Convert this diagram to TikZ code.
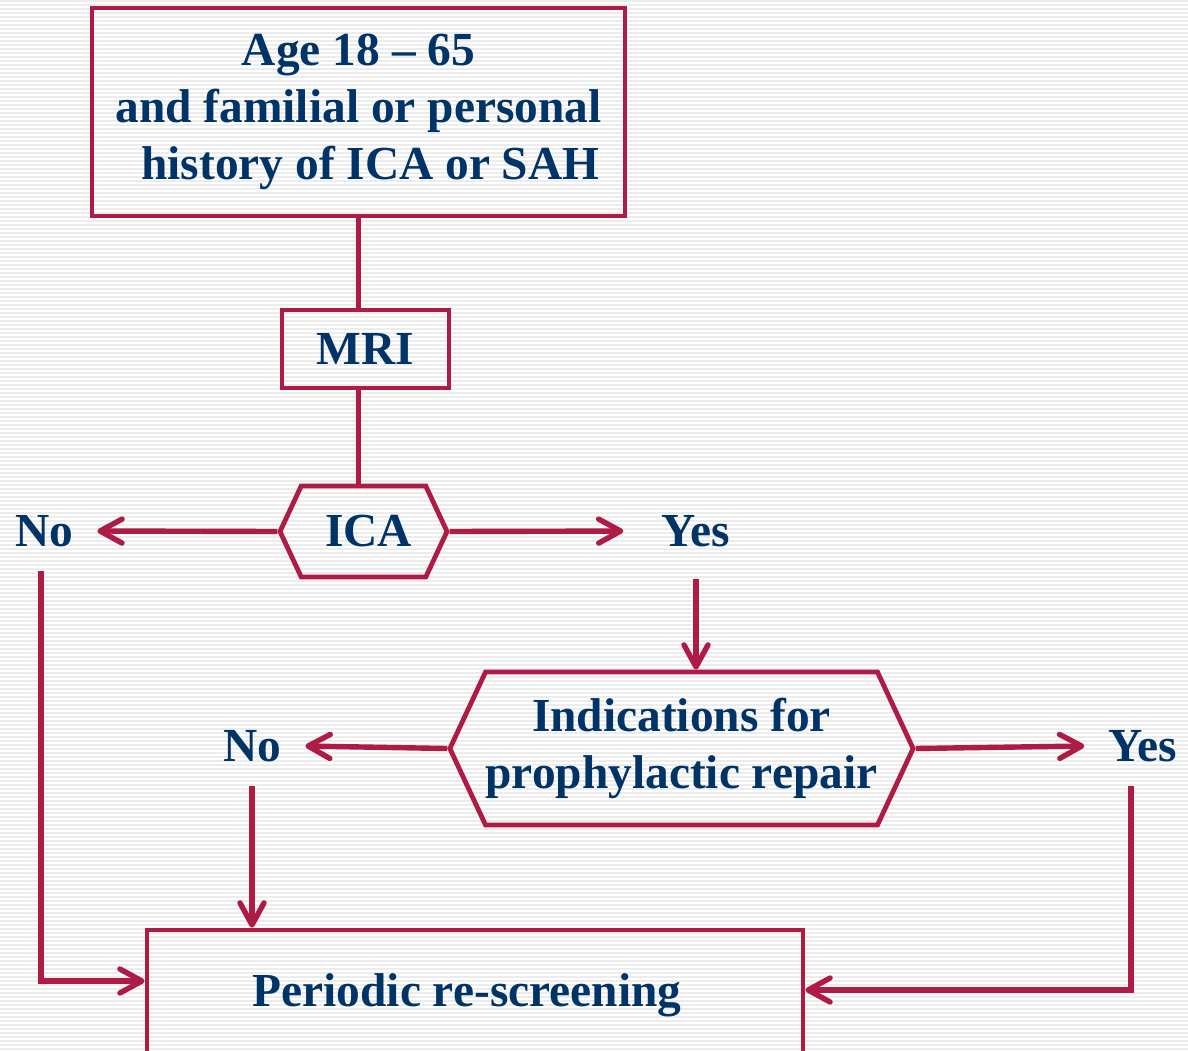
\documentclass[tikz,border=0pt]{standalone}
\usepackage{fontspec}
\setmainfont{Liberation Serif}
\usetikzlibrary{arrows.meta,shapes.symbols}
\definecolor{crimson}{RGB}{174,27,69}
\definecolor{navy}{RGB}{0,51,102}
\definecolor{stripe}{RGB}{236,236,236}

\begin{document}
\begin{tikzpicture}[x=0.5pt,y=-0.5pt]
	\useasboundingbox (0,0) rectangle (1188,1050);
	\fill[white] (0,0) rectangle (1188,1050);
	\foreach \y in {1,5,...,1049}
		\draw[stripe,line width=1pt] (0,\y) -- (1188,\y);

	\tikzstyle{txt} = [text=navy,font=\fontsize{23.7}{28.5}\selectfont\bfseries]
	\tikzstyle{box} = [txt,rectangle,draw=crimson,line width=2.4pt,align=center,inner sep=0pt]
	\tikzstyle{hexa} = [box,signal,signal to=west and east,signal pointer angle=130]
	\tikzstyle{answer} = [txt,inner sep=12pt]
	\tikzstyle{edge} = [crimson,line width=2.7pt]
	\tikzstyle{arrow} = [edge,-{Straight Barb[length=11pt,width=12pt,line cap=round,line join=round]}]

	\node[box,minimum width=266.5pt,minimum height=104pt] (age) at (358.5,112) {Age 18 -- 65\\and familial or personal\\\hspace*{0.5em}history of ICA or SAH};
	\node[box,minimum width=83.5pt,minimum height=39pt] (mri) at (365.5,349) {MRI};
	\node[hexa,minimum width=83.5pt,minimum height=45.5pt] (ica) at (363.5,531.5) {\hspace*{5pt}ICA};
	\node[answer] (no1) at (44,531) {No};
	\node[answer] (yes1) at (696,531) {Yes};
	\node[hexa,minimum width=229.5pt,minimum height=76.5pt] (repair) at (681.5,748.5) {Indications for\\prophylactic repair};
	\node[answer] (no2) at (252,746) {No};
	\node[answer] (yes2) at (1143,746) {Yes};
	\node[box,minimum width=328pt,minimum height=65pt] (rescreen) at (475,995) {\hspace*{-8pt}Periodic re-screening};

	\draw[edge] (age.south) -- (age.south |- mri.north);
	\draw[edge] (age.south |- mri.south) -- (age.south |- ica.north);
	\draw[arrow] (ica.west) -- (no1.east);
	\draw[arrow,shorten >=7pt] (ica.east) -- (yes1.west);
	\draw[arrow,shorten <=4pt] (yes1.south) -- (yes1.south |- repair.north);
	\draw[arrow] (repair.west) -- (no2.east);
	\draw[arrow] (repair.east) -- (yes2.west);
	\draw[arrow] ([xshift=-1.5pt]no1.south) |- ([yshift=7pt]rescreen.west);
	\draw[arrow] (no2.south) -- (no2.south |- rescreen.north);
	\draw[arrow] ([xshift=-6pt]yes2.south) |- ([yshift=2.5pt]rescreen.east);
\end{tikzpicture}
\end{document}
